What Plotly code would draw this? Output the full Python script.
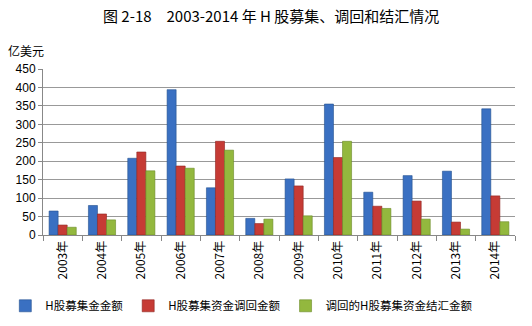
import plotly.graph_objects as go

years = ["2003年", "2004年", "2005年", "2006年", "2007年", "2008年",
         "2009年", "2010年", "2011年", "2012年", "2013年", "2014年"]
raised = [65, 80, 208, 394, 128, 45, 152, 355, 116, 161, 173, 342]
repatriated = [27, 57, 225, 187, 254, 31, 133, 210, 78, 92, 35, 106]
converted = [21, 41, 174, 181, 230, 43, 52, 254, 72, 43, 16, 36]

series_names = ["H股募集金金额", "H股募集资金调回金额", "调回的H股募集资金结汇金额"]
colors = ["#3A70C2", "#C63B35", "#93B83E"]
edges = ["#24508F", "#8E2420", "#6A8A26"]

FONT = "Liberation Sans, Noto Sans CJK SC, sans-serif"
CJK = "Noto Sans CJK SC, sans-serif"

fig = go.Figure()
for name, vals, c, e in zip(series_names, [raised, repatriated, converted], colors, edges):
    fig.add_trace(go.Bar(
        x=years, y=vals, name=name,
        marker=dict(color=c, line=dict(color=e, width=0.6)),
    ))

fig.update_layout(
    width=532, height=326,
    margin=dict(l=43, r=17, t=69, b=91, autoexpand=False),
    paper_bgcolor="white", plot_bgcolor="white",
    barmode="group", bargap=0.31, bargroupgap=0.0,
    font=dict(family=FONT, size=11, color="#000000"),
    showlegend=True,
    legend=dict(
        orientation="h", xref="container", yref="container",
        x=0.01, y=0.062, xanchor="left", yanchor="middle",
        font=dict(size=11.5, family=CJK),
        itemwidth=30, traceorder="normal",
        bgcolor="rgba(0,0,0,0)",
    ),
    xaxis=dict(
        type="category", tickangle=-90, tickson="boundaries",
        ticks="outside", ticklen=5, tickcolor="#888888",
        showline=True, linecolor="#888888", linewidth=1,
        showgrid=False, automargin=False,
        tickfont=dict(size=12, family=CJK),
    ),
    yaxis=dict(
        range=[0, 450], dtick=50, tick0=0,
        showgrid=True, gridcolor="#999999", gridwidth=1,
        showline=True, linecolor="#888888", linewidth=1,
        ticks="outside", ticklen=4, tickcolor="#888888",
        zeroline=False, automargin=False,
        tickfont=dict(size=12, family=FONT),
    ),
    annotations=[
        dict(text="图 2-18　2003-2014 年 H 股募集、调回和结汇情况",
             xref="paper", yref="paper", x=0.483, y=1.0, yshift=54,
             xanchor="center", yanchor="middle", showarrow=False,
             font=dict(size=15, family=CJK)),
        dict(text="亿美元", xref="paper", yref="paper", x=0, xshift=-37,
             y=1.0, yshift=19, xanchor="left", yanchor="middle", showarrow=False,
             font=dict(size=12, family=CJK)),
    ],
)

fig.write_html("out.html")
